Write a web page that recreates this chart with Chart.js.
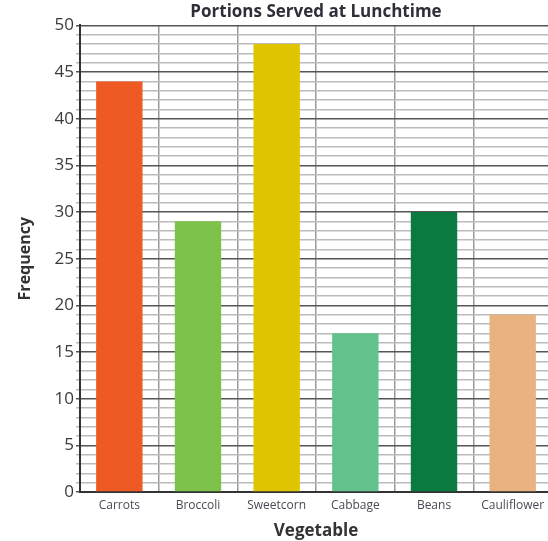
<!DOCTYPE html>
<html>
<head>
<meta charset="utf-8">
<script src="https://cdn.jsdelivr.net/npm/chart.js@4"></script>
<style>
  html, body { margin: 0; padding: 0; background: #fff; overflow: hidden; }
  #wrap { width: 552px; height: 541px; }
</style>
</head>
<body>
<div id="wrap"><canvas id="graph" width="552" height="541"></canvas></div>
<script>
const vegetables = ['Carrots', 'Broccoli', 'Sweetcorn', 'Cabbage', 'Beans', 'Cauliflower'];
const portions = [44, 29, 48, 17, 30, 19];
const barColours = ['#ef5a24', '#7dc24b', '#dfc402', '#63c28b', '#0a7a40', '#e9b27f'];
const yMax = 50;

const FONT = "'Open Sans', 'Noto Sans', sans-serif";

new Chart(document.getElementById('graph').getContext('2d'), {
  type: 'bar',
  data: {
    labels: vegetables,
    datasets: [{
      data: portions,
      backgroundColor: barColours,
      barPercentage: 0.59,
      categoryPercentage: 1.0
    }]
  },
  options: {
    responsive: false,
    animation: false,
    layout: { padding: { left: 0, right: 0, top: 0, bottom: 0 } },
    plugins: {
      legend: { display: false },
      tooltip: { enabled: false },
      title: {
        display: true,
        fullSize: false,
        text: 'Portions Served at Lunchtime',
        color: '#2f2f3a',
        font: { family: FONT, size: 17, weight: 'bold' },
        padding: { top: 2, bottom: 3 }
      }
    },
    scales: {
      x: {
        offset: true,
        grid: { display: true, offset: true, color: '#999', lineWidth: 1.5, drawTicks: false },
        border: { display: true, color: '#333', width: 2 },
        ticks: { color: '#4a4a55', font: { family: FONT, size: 12 }, padding: 6, maxRotation: 0, autoSkip: false },
        title: { display: true, text: 'Vegetable', color: '#333', font: { family: FONT, size: 17, weight: 'bold' }, padding: { top: 1, bottom: 0 } },
        afterFit: (scale) => { scale.height = 49; }
      },
      y: {
        min: 0,
        max: yMax,
        grid: {
          color: (ctx) => (ctx.tick && ctx.tick.value % 5 === 0) ? '#555' : '#bbb',
          lineWidth: 1.5,
          tickLength: 4
        },
        border: { display: true, color: '#333', width: 2 },
        ticks: {
          stepSize: 1,
          autoSkip: false,
          color: '#3a3a3a',
          font: { family: FONT, size: 17 },
          padding: 2,
          callback: (v) => v % 5 === 0 ? v : ''
        },
        title: { display: true, text: 'Frequency', color: '#333', font: { family: FONT, size: 16, weight: 'bold' }, padding: { top: 16, bottom: 4 } },
        afterFit: (scale) => { scale.width = 80; }
      }
    }
  }
});
</script>
</body>
</html>
